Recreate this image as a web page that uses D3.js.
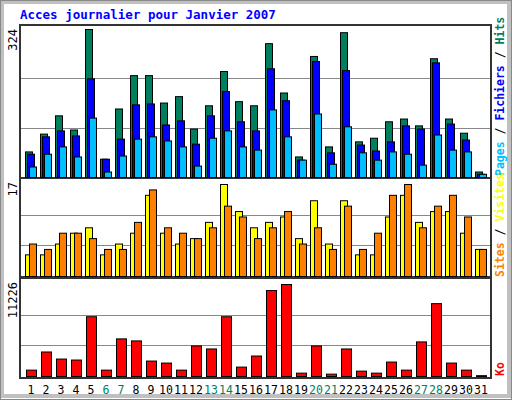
<!DOCTYPE html>
<html><head><meta charset="utf-8">
<script src="https://cdn.jsdelivr.net/npm/d3@7"></script>
<style>body{margin:0;background:#fff}</style></head>
<body><svg id="c" width="512" height="400"></svg>
<script>
const days = d3.range(1,32).map(String);
const weekend = ["6","7","13","14","20","21","27","28"];
const hits = [56,95,135,104,324,40,150,223,223,163,177,106,157,232,166,157,293,185,45,265,67,317,78,86,122,128,113,260,128,97,12];
const fichiers = [51,89,102,91,216,40,84,159,161,115,124,73,135,188,122,102,238,168,38,254,54,234,71,58,78,113,106,251,117,82,7];
const pages = [23,51,67,45,130,12,47,84,89,80,67,25,86,102,67,60,148,89,38,139,29,111,54,38,56,51,27,93,60,56,7];
const sites = [4,4,6,8,9,4,6,8,15,8,6,7,10,17,12,9,10,11,7,14,6,14,4,4,11,15,10,12,12,8,5];
const visites = [6,5,8,8,7,5,5,10,16,9,8,7,9,13,11,7,9,12,6,9,5,13,5,8,15,17,9,13,15,11,5];
const ko = [778,2991,2130,2008,7293,778,4589,4343,1885,1639,778,3728,3360,7293,1147,2499,10488,11226,410,3728,287,3360,656,410,1762,778,4220,8890,1639,778,100];

const svg = d3.select("#c");
const mono = "'DejaVu Sans Mono', monospace";
// frame
svg.append("rect").attr("x",2).attr("y",2).attr("width",507).attr("height",394).attr("fill","#fff").attr("stroke","#c0c0c0").attr("stroke-width",4);
svg.append("rect").attr("x",0.5).attr("y",0.5).attr("width",511).attr("height",399).attr("fill","none").attr("stroke","#888").attr("stroke-width",1);
svg.append("text").attr("x",20).attr("y",19).text("Acces journalier pour Janvier 2007")
  .attr("fill","#0000ff").attr("font-family",mono).attr("font-weight","bold").attr("font-size",12.5);

const x = d3.scaleBand().domain(days).range([20,490]).paddingInner(0).paddingOuter(0);
// group step 15 starting at 25
const x0 = d => 25 + (d-1)*15;
const xs = d3.scaleLinear().domain([1,31]).range([25,475]);

const panels = [
 {top:25,base:177,max:324,hmax:148,label:"324"},
 {top:178,base:276,max:17,hmax:92,label:"17"},
 {top:278,base:376,max:11226,hmax:92,label:"11226"}
];
panels.forEach(p=>{
  p.y = d3.scaleLinear().domain([0,p.max]).range([p.base,p.base-p.hmax]);
  svg.append("rect").attr("x",20).attr("y",p.top).attr("width",471).attr("height",(p===panels[2]?378:p.base+1)-p.top)
    .attr("fill","#fff").attr("stroke","#333").attr("stroke-width",2);
  [1/3,2/3].forEach(f=>svg.append("line").attr("x1",21).attr("x2",490)
    .attr("y1",Math.round(p.y(p.max*f))+0.5).attr("y2",Math.round(p.y(p.max*f))+0.5).attr("stroke","#888").attr("stroke-width",1));
  svg.append("text").attr("transform",`translate(17,${p.top+4}) rotate(-90)`).attr("text-anchor","end")
    .attr("font-family",mono).attr("font-size",12).attr("fill","#000").text(p.label);
});

function bars(p, data, off, w, color){
  svg.append("g").selectAll("rect").data(data).join("rect")
    .attr("x",(v,i)=>xs(i+1)+off+0.5).attr("width",w)
    .attr("y",v=>p.y(v)+0.5).attr("height",v=>Math.max(0,p.base-p.y(v)))
    .attr("fill",color).attr("stroke","#000").attr("stroke-width",1);
}
bars(panels[0],hits,0,7,"#007f5f");
bars(panels[0],fichiers,2,7,"#0000ff");
bars(panels[0],pages,4,7,"#00bfff");
bars(panels[1],sites,0,7,"#ffff00");
bars(panels[1],visites,4,7,"#ff8000");
bars(panels[2],ko,1,10,"#ff0000");

// day labels
svg.append("g").selectAll("text").data(days).join("text")
  .attr("x",(d,i)=>xs(i+1)+6).attr("y",394).attr("text-anchor","middle")
  .attr("font-family",mono).attr("font-size",11.5)
  .attr("fill",d=>weekend.includes(d)?"#007f5f":"#000").text(d=>d);

// right labels
function rlabel(y, parts){
  const t = svg.append("text").attr("transform",`translate(504,${y}) rotate(-90)`)
    .attr("font-family",mono).attr("font-size",11.5).attr("font-weight","bold");
  parts.forEach(([s,c])=>t.append("tspan").attr("fill",c).text(s));
}
rlabel(176,[["Pages","#00bfff"],[" / ","#000"],["Fichiers","#0000ff"],[" / ","#000"],["Hits","#007f5f"]]);
rlabel(277,[["Sites","#ff8000"],[" / ","#000"],["Visites","#ffff00"]]);
rlabel(376,[["Ko","#ff0000"]]);
</script></body></html>
